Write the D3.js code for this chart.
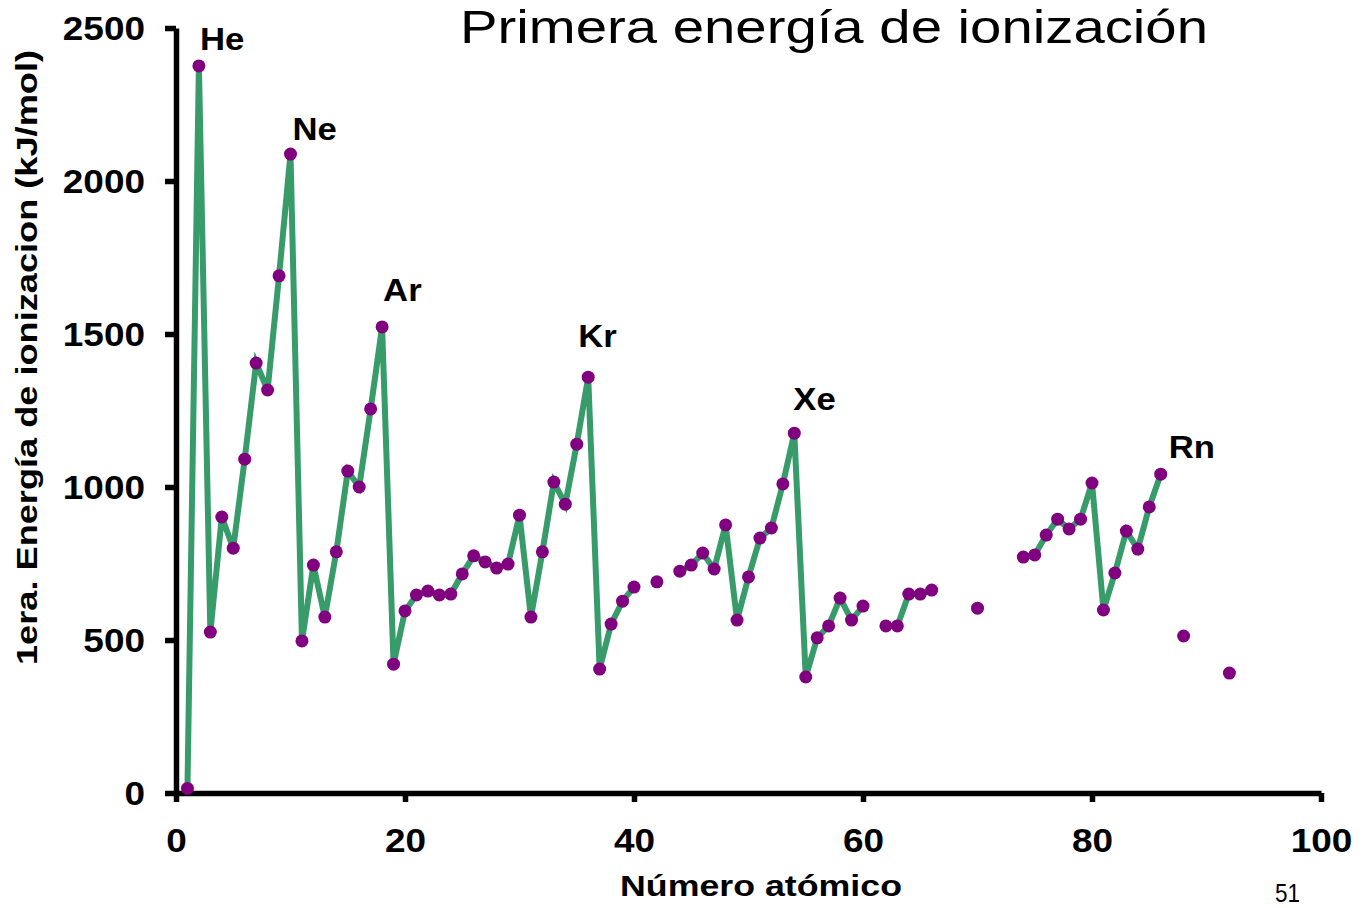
<!DOCTYPE html>
<html lang="es">
<head>
<meta charset="utf-8">
<title>Primera energía de ionización</title>
<script src="https://cdn.jsdelivr.net/npm/d3@7"></script>
<style>
  html, body { margin: 0; padding: 0; background: #ffffff; }
  svg { display: block; }
  text { font-family: "Liberation Sans", Arial, sans-serif; fill: #000; }
</style>
</head>
<body>
<svg id="chart" width="1369" height="908"></svg>
<script>
// Atomic numbers with a measured first ionization energy (kJ/mol)
const atomicNumber = [
  1, 2, 3, 4, 5, 6, 7, 8, 9, 10,
  11, 12, 13, 14, 15, 16, 17, 18, 19, 20,
  21, 22, 23, 24, 25, 26, 27, 28, 29, 30,
  31, 32, 33, 34, 35, 36, 37, 38, 39, 40,
  42, 44, 45, 46, 47, 48, 49, 50,
  51, 52, 53, 54, 55, 56, 57, 58, 59, 60,
  62, 63, 64, 65, 66, 70,
  74, 75, 76, 77, 78, 79, 80,
  81, 82, 83, 84, 85, 86, 88, 92
];
const ionizationEnergy = [
  15, 2376, 526, 902, 800, 1091, 1405, 1317, 1690, 2088,
  497, 745, 575, 788, 1052, 1000, 1255, 1523, 421, 595,
  647, 660, 647, 650, 716, 775, 755, 735, 748, 908,
  575, 788, 1016, 944, 1140, 1359, 405, 552, 627, 673,
  690, 725, 745, 784, 732, 876, 565, 706,
  833, 866, 1010, 1176, 379, 507, 546, 637, 565, 611,
  546, 546, 650, 650, 663, 604,
  771, 778, 843, 895, 863, 895, 1013,
  598, 719, 856, 797, 935, 1042, 513, 392
];

// Noble gases that get a symbol label
const nobleSymbols = ["He", "Ne", "Ar", "Kr", "Xe", "Rn"];
const nobleNumbers = [2, 10, 18, 36, 54, 86];

// Axis ticks
const xTicks = [0, 20, 40, 60, 80, 100];
const yTicks = [0, 500, 1000, 1500, 2000, 2500];

const svg = d3.select("#chart");

const x = d3.scaleLinear().domain([0, 100]).range([176, 1321]);
const y = d3.scaleLinear().domain([0, 2500]).range([793, 28]);

// Labels are set slightly wider than regular Arial Bold
const stretch = 1.12;

const points = atomicNumber.map((z, i) => ({ z, e: ionizationEnergy[i] }));

// Break the line wherever an atomic number is skipped
const lineData = [];
points.forEach((p, i) => {
  if (i > 0 && p.z - points[i - 1].z > 1) lineData.push(null);
  lineData.push(p);
});

const line = d3.line()
  .defined(d => d !== null)
  .x(d => x(d.z))
  .y(d => y(d.e));

// Axes
const yAxis = svg.append("g")
  .attr("transform", `translate(${x(0)},0)`)
  .call(d3.axisLeft(y).tickValues(yTicks).tickFormat(d3.format("d"))
    .tickSize(11).tickSizeOuter(0).tickPadding(20));

const xAxis = svg.append("g")
  .attr("transform", `translate(0,${y(0)})`)
  .call(d3.axisBottom(x).tickValues(xTicks).tickFormat(d3.format("d"))
    .tickSize(9).tickSizeOuter(0).tickPadding(27));

[yAxis, xAxis].forEach(g => {
  g.select(".domain").attr("stroke", "#000").attr("stroke-width", 5.5);
  g.selectAll(".tick line").attr("stroke", "#000").attr("stroke-width", 5.5);
  g.selectAll(".tick text")
    .attr("font-size", 33)
    .attr("font-weight", "bold")
    .attr("font-family", "'Liberation Sans', Arial, sans-serif")
    .attr("fill", "#000")
    .each(function () {
      const t = d3.select(this);
      const tx = +t.attr("x") || 0;
      t.attr("x", tx / stretch).attr("transform", `scale(${stretch},1)`);
    });
});
yAxis.selectAll(".tick text").attr("dy", "0.34em");

// Series line
svg.append("path")
  .datum(lineData)
  .attr("fill", "none")
  .attr("stroke", "#379c6a")
  .attr("stroke-width", 6)
  .attr("stroke-linejoin", "miter")
  .attr("d", line);

// Markers
svg.append("g")
  .selectAll("circle")
  .data(points)
  .join("circle")
  .attr("cx", d => x(d.z))
  .attr("cy", d => y(d.e))
  .attr("r", 6.5)
  .attr("fill", "#800080");

// Noble gas labels, offset from their markers
const labelOffset = [[1, -16], [2, -14], [1, -26], [-10, -30], [-1, -23], [8, -16]];
svg.append("g")
  .selectAll("text")
  .data(nobleSymbols)
  .join("text")
  .attr("transform", (s, i) => {
    const e = ionizationEnergy[atomicNumber.indexOf(nobleNumbers[i])];
    const px = x(nobleNumbers[i]) + labelOffset[i][0];
    const py = y(e) + labelOffset[i][1];
    return `translate(${px},${py}) scale(${stretch},1)`;
  })
  .attr("font-size", 31)
  .attr("font-weight", "bold")
  .text(s => s);

// Title
svg.append("text")
  .attr("x", 460)
  .attr("y", 43)
  .attr("font-size", 46)
  .attr("font-family", "'Comic Sans MS', 'Comic Neue', 'DejaVu Sans', sans-serif")
  .attr("textLength", 748)
  .attr("lengthAdjust", "spacingAndGlyphs")
  .text("Primera energía de ionización");

// Axis titles
svg.append("text")
  .attr("x", 620)
  .attr("y", 896)
  .attr("font-size", 30)
  .attr("font-weight", "bold")
  .attr("textLength", 282)
  .attr("lengthAdjust", "spacingAndGlyphs")
  .text("Número atómico");

svg.append("text")
  .attr("transform", "translate(37,665) rotate(-90)")
  .attr("font-size", 30)
  .attr("font-weight", "bold")
  .attr("textLength", 615)
  .attr("lengthAdjust", "spacingAndGlyphs")
  .text("1era. Energía de ionizacion (kJ/mol)");

// Slide number
svg.append("text")
  .attr("x", 1275)
  .attr("y", 902)
  .attr("font-size", 26)
  .attr("textLength", 25)
  .attr("lengthAdjust", "spacingAndGlyphs")
  .text("51");
</script>
</body>
</html>
